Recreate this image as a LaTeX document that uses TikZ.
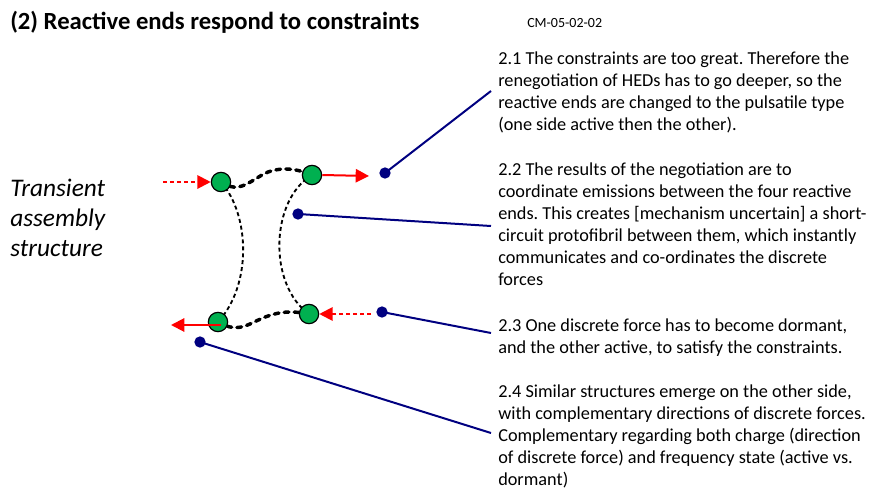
\documentclass[tikz,border=0pt]{standalone}
\usepackage{fontspec}
\setmainfont{Carlito}
\usetikzlibrary{arrows.meta}
\definecolor{endgreen}{HTML}{00B050}
\definecolor{navyline}{HTML}{000080}
\tikzset{
  endpt/.style={circle,draw=black,line width=0.9pt,fill=endgreen,minimum size=14.5pt,inner sep=0pt},
  bluedot/.style={circle,fill=navyline,minimum size=8.5pt,inner sep=0pt},
  pointer/.style={navyline,line width=1.5pt},
  thickdash/.style={black,line width=2.6pt,line cap=round,dash pattern=on 3.5pt off 4pt},
  thindash/.style={black,line width=1.4pt,dash pattern=on 3pt off 2.2pt},
  redsolid/.style={red,line width=1.5pt,-{Triangle[length=10pt,width=10pt]}},
  reddash/.style={red,line width=1.5pt,dash pattern=on 3pt off 2.2pt,-{Triangle[length=10pt,width=10pt]}},
  note/.style={anchor=base west,align=left,inner sep=0pt,font=\fontsize{13.7pt}{16.5pt}\selectfont},
}
\begin{document}
\frenchspacing
\begin{tikzpicture}[x=0.75pt,y=-0.75pt]
\useasboundingbox (0,0) rectangle (872,489);
% title
\node[anchor=base west,inner sep=0pt,font=\fontsize{18.5pt}{22pt}\selectfont\bfseries] (title) at (10,30) {(2) Reactive ends respond to constraints};
\node[anchor=base west,inner sep=0pt,font=\fontsize{10.5pt}{13pt}\selectfont] (code) at (527,27) {CM-05-02-02};
\node[anchor=base west,align=left,inner sep=0pt,font=\fontsize{19pt}{22.5pt}\selectfont\itshape] (trans) at (10,256) {Transient\\assembly\\structure};
% notes (anchored at the baseline of the last line)
\node[note] (n1) at (498,130) {2.1 The constraints are too great. Therefore the\\renegotiation of HEDs has to go deeper, so the\\reactive ends are changed to the pulsatile type\\(one side active then the other).};
\node[note] (n2) at (498,285) {2.2 The results of the negotiation are to\\coordinate emissions between the four reactive\\ends. This creates [mechanism uncertain] a short-\\circuit protofibril between them, which instantly\\communicates and co-ordinates the discrete\\forces};
\node[note] (n3) at (498,353) {2.3 One discrete force has to become dormant,\\and the other active, to satisfy the constraints.};
\node[note] (n4) at (498,485) {2.4 Similar structures emerge on the other side,\\with complementary directions of discrete forces.\\Complementary regarding both charge (direction\\of discrete force) and frequency state (active vs.\\dormant)};
% ends
\coordinate (a) at (221,182);
\coordinate (b) at (312,175);
\coordinate (c) at (218,322);
\coordinate (d) at (309,314);
% thin dashed protofibrils
\draw[thindash] (a) .. controls (250,215) and (252,285) .. (c);
\draw[thindash] (b) .. controls (270,200) and (268,285) .. (d);
% thick dashed links
\draw[thickdash] (a) .. controls (240,195) and (250,180) .. (268,172) .. controls (285,166) and (300,170) .. (b);
\draw[thickdash] (c) .. controls (240,335) and (250,322) .. (268,316) .. controls (285,310) and (298,312) .. (d);
% green ends
\node[endpt] (ea) at (a) {};
\node[endpt] (eb) at (b) {};
\node[endpt] (ec) at (c) {};
\node[endpt] (ed) at (d) {};
% red arrows
\coordinate (ra) at (163,182);
\coordinate (rb) at (369,176);
\coordinate (rc) at (171,325);
\coordinate (rd) at (371,314);
\coordinate (cc) at (221,325);
\draw[reddash] (ra) -- (ea.west);
\draw[redsolid] (eb.east) -- (rb);
\draw[redsolid] (cc) -- (rc);
\draw[reddash] (rd) -- (ed.east);
% blue pointers
\node[bluedot] (d1) at (385,173) {};
\node[bluedot] (d2) at (298,214) {};
\node[bluedot] (d3) at (382,312) {};
\node[bluedot] (d4) at (200,342) {};
\coordinate (t1) at (491,91);
\coordinate (t2) at (491,226);
\coordinate (t3) at (491,333);
\coordinate (t4) at (491,433);
\draw[pointer] (d1.center) -- (t1);
\draw[pointer] (d2.center) -- (t2);
\draw[pointer] (d3.center) -- (t3);
\draw[pointer] (d4.center) -- (t4);
\end{tikzpicture}
\end{document}
